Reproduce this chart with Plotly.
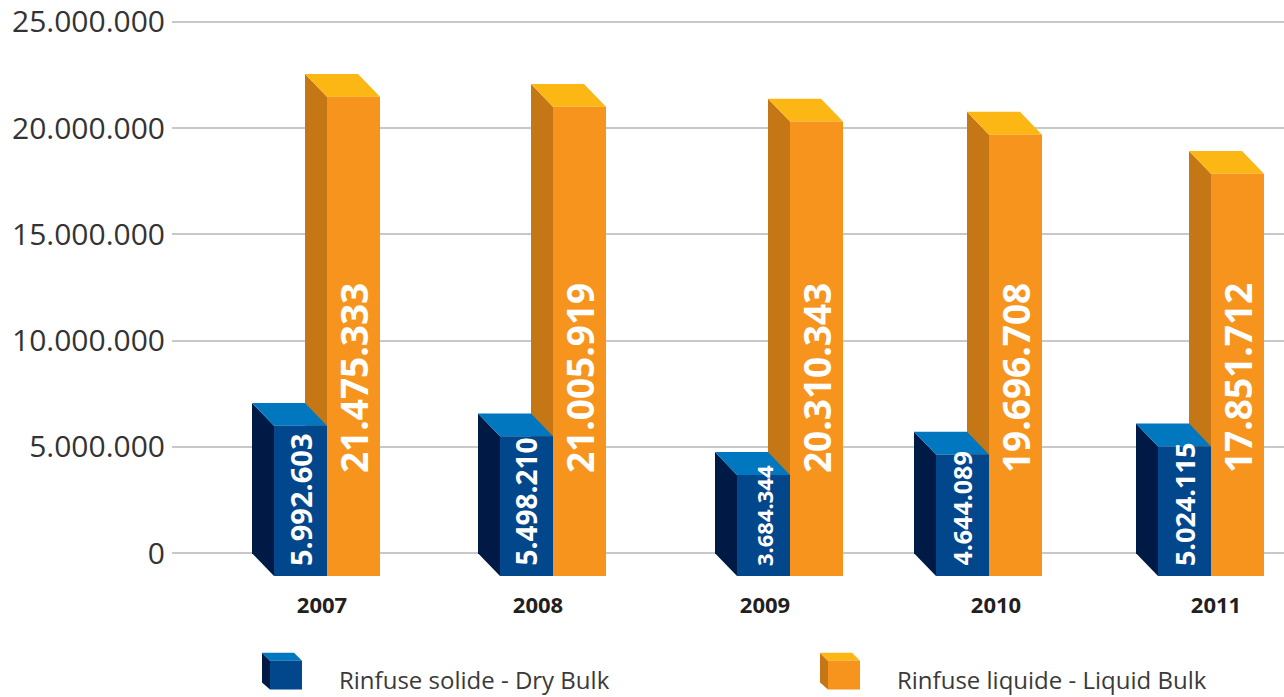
import plotly.graph_objects as go

years = ["2007", "2008", "2009", "2010", "2011"]
dry_bulk = [5992603, 5498210, 3684344, 4644089, 5024115]
liquid_bulk = [21475333, 21005919, 20310343, 19696708, 17851712]
y_ticks = [0, 5000000, 10000000, 15000000, 20000000, 25000000]
series_names = ["Rinfuse solide - Dry Bulk", "Rinfuse liquide - Liquid Bulk"]

# styling
W, H = 1284, 697
L, R, T, B = 172, 0, 10, 107
PX_PER_UNIT = 221.0
PX_PER_VAL = 21.36 / 1e6
plot_w = W - L - R
plot_h = H - T - B
x0 = (172 - 327) / PX_PER_UNIT
x1 = x0 + plot_w / PX_PER_UNIT
y0 = -(590 - 553) / PX_PER_VAL
y1 = y0 + plot_h / PX_PER_VAL

# layout positions of the bar groups and of the year labels (pixels)
GROUP_PX = [327, 553, 790, 989, 1211]
LABEL_PX = [322, 538, 765, 996, 1216]
group_pos = [(p - 327) / PX_PER_UNIT for p in GROUP_PX]
label_pos = [(p - 327) / PX_PER_UNIT for p in LABEL_PX]

BW = 53 / PX_PER_UNIT      # bar width
DX = 22 / PX_PER_UNIT      # depth x
DY = 23 / PX_PER_VAL       # depth y
DRY_LABEL_SIZES = [29, 28, 22, 25, 27]

colors = {
    "dry": dict(front="#02468c", side="#001a46", top="#0077bf"),
    "liq": dict(front="#f7941d", side="#c57716", top="#fdb714"),
}


def fmt(v):
    return f"{v:,}".replace(",", ".")


fig = go.Figure()


def poly(xs, ys, color):
    fig.add_trace(go.Scatter(
        x=xs + [xs[0]], y=ys + [ys[0]], mode="lines", fill="toself",
        fillcolor=color, line=dict(width=0, color=color),
        hoverinfo="skip", showlegend=False))


def box(xc, v, c):
    xl, xr = xc - BW / 2, xc + BW / 2
    poly([xl, xl, xl - DX, xl - DX], [-DY, v, v + DY, 0], c["side"])
    poly([xl, xr, xr - DX, xl - DX], [v, v, v + DY, v + DY], c["top"])
    poly([xl, xr, xr, xl], [-DY, -DY, v, v], c["front"])


annotations = []
for i, yr in enumerate(years):
    g = group_pos[i]
    box(g + BW / 2, liquid_bulk[i], colors["liq"])
    box(g - BW / 2, dry_bulk[i], colors["dry"])
    annotations.append(dict(
        x=g + BW / 2, y=(553 - 475) / PX_PER_VAL, xref="x", yref="y",
        text=fmt(liquid_bulk[i]), textangle=-90, showarrow=False,
        xanchor="center", yanchor="bottom",
        font=dict(family="Open Sans", size=37, color="white", weight="bold")))
    annotations.append(dict(
        x=g - BW / 2, y=(553 - 568) / PX_PER_VAL, xref="x", yref="y",
        text=fmt(dry_bulk[i]), textangle=-90, showarrow=False,
        xanchor="center", yanchor="bottom",
        font=dict(family="Open Sans", size=DRY_LABEL_SIZES[i],
                  color="white", weight="bold")))


def px2paper(px, py):
    return (px - L) / plot_w, (H - B - py) / plot_h


shapes = []
for k, key in enumerate(["dry", "liq"]):
    off = 558 * k
    c = colors[key]

    def path(pts):
        s = ""
        for j, (px, py) in enumerate(pts):
            xp, yp = px2paper(px + off, py)
            s += ("M" if j == 0 else "L") + f"{xp:.5f},{yp:.5f}"
        return s + "Z"

    shapes.append(dict(type="path", xref="paper", yref="paper", line=dict(width=0),
                       fillcolor=c["side"], path=path([(262, 653), (270, 661), (270, 690), (262, 683)])))
    shapes.append(dict(type="path", xref="paper", yref="paper", line=dict(width=0),
                       fillcolor=c["top"], path=path([(262, 653), (294, 653), (302, 661), (270, 661)])))
    shapes.append(dict(type="path", xref="paper", yref="paper", line=dict(width=0),
                       fillcolor=c["front"], path=path([(270, 661), (302, 661), (302, 690), (270, 690)])))
    tx, ty = px2paper(337 + off, 680)
    annotations.append(dict(
        x=tx, y=ty, xref="paper", yref="paper", text=series_names[k],
        showarrow=False, xanchor="left", yanchor="middle",
        font=dict(family="Open Sans", size=24, color="#3a3a3a")))

fig.update_layout(
    width=W, height=H,
    margin=dict(l=L, r=R, t=T, b=B),
    paper_bgcolor="white", plot_bgcolor="white",
    showlegend=False,
    shapes=shapes,
    annotations=annotations,
    xaxis=dict(range=[x0, x1], tickvals=label_pos, ticktext=years,
               showgrid=False, zeroline=False, showline=False, ticks="",
               tickfont=dict(family="Open Sans", size=22, color="#231f20", weight="bold"),
               fixedrange=True),
    yaxis=dict(range=[y0, y1], tickvals=y_ticks, ticktext=[fmt(v) for v in y_ticks],
               showgrid=True, gridcolor="#c8c8c8", gridwidth=1.5,
               zeroline=False, showline=False, ticks="", ticklabelstandoff=6,
               ticklabeloverflow="allow",
               tickfont=dict(family="Open Sans", size=30, color="#333333"),
               fixedrange=True),
)

fig.write_html("out.html", config={"displayModeBar": False},
               post_script="document.body.style.margin='0px';")
